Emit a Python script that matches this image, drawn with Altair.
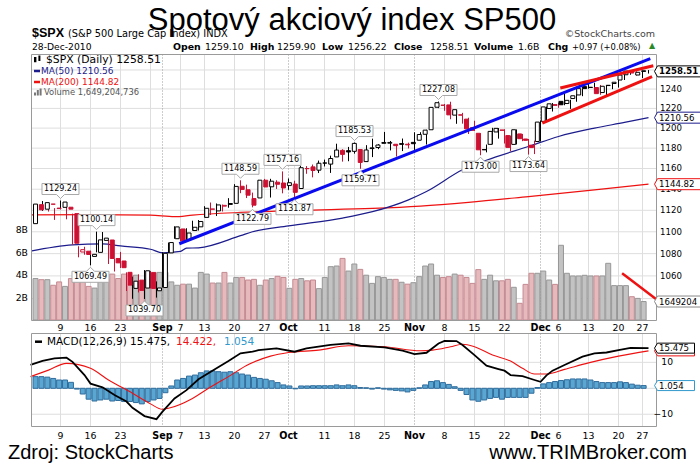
import altair as alt
import pandas as pd

# ---------------- data ----------------
aug = [2,3,4,5,6,9,10,11,12,13,16,17,18,19,20,23,24,25,26,27,30,31]
sep = [1,2,3,7,8,9,10,13,14,15,16,17,20,21,22,23,24,27,28,29,30]
octb = [1,4,5,6,7,8,11,12,13,14,15,18,19,20,21,22,25,26,27,28,29]
nov = [1,2,3,4,5,8,9,10,11,12,15,16,17,18,19,22,23,24,26,29,30]
dec = [1,2,3,6,7,8,9,10,13,14,15,16,17,20,21,22,23,27,28]
dates = ([f"2010-08-{d:02d}" for d in aug] + [f"2010-09-{d:02d}" for d in sep] +
         [f"2010-10-{d:02d}" for d in octb] + [f"2010-11-{d:02d}" for d in nov] +
         [f"2010-12-{d:02d}" for d in dec])
prev_close_before = 1101.60

opens = [1107.53,1125.34,1121.06,1125.78,1122.07,1122.80,1122.92,1116.89,1081.48,1082.22,
1077.49,1081.16,1092.08,1092.44,1075.63,1073.36,1063.20,1048.98,1056.28,1049.27,
1062.90,1046.88,1049.72,1080.66,1093.61,1102.60,1092.36,1101.15,1104.57,1113.38,
1121.16,1119.43,1123.89,1126.39,1126.57,1142.82,1139.49,1131.10,1131.69,1148.64,
1142.31,1146.75,1145.97,1143.49,1144.96,1140.68,1159.81,1161.57,1158.36,1165.32,
1164.28,1171.32,1177.82,1177.47,1176.83,1178.64,1166.74,1179.56,1180.63,1184.74,
1184.88,1183.84,1184.47,1183.87,1185.71,1187.86,1193.79,1198.34,1221.20,1223.24,
1223.59,1213.14,1213.04,1209.07,1200.44,1194.79,1178.33,1183.75,1196.12,1198.07,
1192.51,1183.70,1194.16,1189.08,1182.96,1186.60,1206.81,1219.93,1223.87,1227.25,
1225.02,1230.14,1233.85,1242.52,1241.84,1241.58,1236.34,1243.63,1245.76,1249.43,
1254.94,1257.53,1254.66,1259.10]
highs = [1127.30,1125.44,1128.75,1126.56,1122.07,1129.24,1127.16,1116.89,1086.72,1086.25,
1082.62,1100.14,1099.77,1092.44,1075.63,1081.58,1063.20,1059.38,1061.45,1065.21,
1064.40,1055.14,1081.30,1090.10,1105.10,1102.60,1103.26,1110.27,1110.88,1123.87,
1127.36,1126.46,1125.44,1131.47,1144.86,1148.59,1144.38,1136.77,1148.90,1149.92,
1150.00,1148.63,1157.16,1150.30,1148.16,1162.76,1162.33,1163.87,1167.73,1168.68,
1172.58,1184.38,1178.89,1181.20,1185.53,1178.64,1182.94,1189.43,1183.93,1196.14,
1187.11,1183.84,1189.53,1185.46,1195.81,1195.88,1198.30,1221.25,1227.08,1224.57,
1226.84,1218.75,1215.45,1210.50,1207.43,1194.79,1183.56,1200.29,1199.97,1198.94,
1192.51,1198.62,1194.16,1189.08,1187.40,1207.61,1221.89,1225.57,1225.80,1235.05,
1228.93,1234.71,1240.40,1246.73,1246.59,1244.25,1243.75,1245.81,1250.20,1255.82,
1259.39,1258.59,1258.43,1259.90]
lows = [1107.53,1116.76,1119.46,1118.81,1111.01,1120.91,1111.58,1088.01,1076.69,1079.00,
1069.49,1081.16,1085.76,1070.66,1063.91,1067.08,1046.68,1039.83,1045.40,1039.70,
1048.79,1040.88,1049.72,1080.39,1093.61,1091.15,1091.84,1101.15,1101.15,1113.38,
1115.58,1114.63,1118.88,1122.43,1126.57,1136.22,1131.58,1122.79,1131.69,1142.00,
1132.09,1140.26,1136.08,1139.42,1131.87,1140.68,1154.85,1151.41,1155.58,1162.02,
1155.71,1171.32,1166.71,1167.12,1174.55,1159.71,1166.74,1171.17,1178.99,1184.74,
1177.72,1171.70,1177.10,1179.70,1177.65,1187.86,1183.56,1198.34,1220.29,1217.55,
1208.94,1204.33,1204.49,1194.08,1197.15,1173.00,1175.82,1183.75,1189.44,1184.58,
1176.91,1183.70,1186.93,1173.64,1174.14,1186.60,1206.81,1216.82,1220.67,1223.25,
1219.50,1226.85,1232.58,1240.34,1238.17,1234.01,1232.85,1239.87,1241.51,1249.43,
1254.94,1254.05,1251.48,1256.22]
closes = [1125.86,1120.46,1127.24,1125.81,1121.64,1127.79,1121.06,1089.47,1083.61,1079.25,
1079.38,1092.54,1094.16,1075.63,1071.69,1067.36,1051.87,1055.33,1047.22,1064.59,
1048.92,1049.33,1080.29,1090.10,1104.51,1091.84,1098.87,1104.18,1109.55,1121.90,
1121.10,1125.07,1124.66,1125.59,1142.71,1139.78,1134.28,1124.83,1148.67,1142.16,
1147.70,1144.73,1141.20,1146.24,1137.03,1160.75,1159.97,1158.06,1165.15,1165.32,
1169.77,1178.10,1173.81,1176.19,1184.71,1165.90,1178.17,1180.26,1183.08,1185.62,
1185.64,1182.45,1183.78,1183.26,1184.38,1193.57,1197.96,1221.06,1225.85,1223.25,
1213.40,1218.71,1213.54,1199.21,1197.75,1178.34,1178.59,1196.69,1199.73,1197.84,
1180.73,1198.35,1189.40,1187.76,1180.55,1206.07,1221.53,1224.71,1223.12,1223.75,
1228.28,1233.00,1240.40,1240.46,1241.59,1235.23,1242.87,1243.91,1247.08,1254.60,
1258.84,1256.77,1257.54,1258.51]
volumes_b = [3.7,3.6,3.6,3.1,3.4,3.0,3.7,4.25,4.25,3.0,
2.85,4.1,3.6,4.1,3.7,4.1,3.1,4.0,2.7,3.6,
4.25,4.25,4.25,3.4,3.1,3.2,3.2,2.85,4.25,4.1,
3.3,3.3,4.25,3.3,3.8,3.8,3.57,3.63,3.1,3.57,
3.7,3.9,3.8,2.83,3.63,3.7,3.5,3.57,2.8,3.8,
4.76,4.82,5.5,4.37,5.0,4.52,4.0,3.27,3.87,3.8,
3.63,3.63,3.37,3.2,3.33,3.87,4.82,5.0,4.0,3.8,
3.87,4.1,4.0,3.8,3.27,4.5,3.63,4.0,3.5,3.5,
3.63,2.92,1.49,3.18,4.17,4.17,4.37,3.57,3.18,6.67,
4.17,3.93,3.93,3.99,3.93,3.93,3.93,5.06,3.07,3.07,
3.07,2.08,1.93,1.649]
macd_hist = [4.5,4.5,4.3,3.8,3.2,3.2,2.3,-0.3,-2.2,-4.2,
-4.9,-4.5,-4.2,-4.9,-4.7,-5.1,-5.1,-5.5,-6.0,-5.1,
-4.5,-3.9,-1.7,0.9,3.2,3.8,4.7,5.1,6.0,6.7,
6.7,6.4,6.2,6.4,6.0,5.5,5.1,4.2,3.8,3.5,
2.9,2.2,1.3,0.9,-0.2,0.9,0.9,1.0,1.0,1.0,
1.0,1.3,1.0,1.3,1.0,0.3,0.2,-0.3,0.2,-0.3,
-0.6,-0.8,-1.0,-1.4,-0.8,0.2,1.3,2.6,2.9,2.2,
1.5,0.6,-0.8,-2.4,-4.5,-5.0,-4.5,-3.9,-3.5,-4.2,
-3.5,-3.5,-3.5,-3.5,-1.9,0.3,1.7,2.2,2.6,3.0,
3.3,3.6,3.6,3.6,3.2,2.6,2.2,2.2,2.2,2.5,
2.2,1.6,1.2,1.054]

ma50_day = [0,7,12,15,20,22,25,26,28,35,37,43,52,57,63,66,72,77,83,88,94,99,103]
ma50_val = [1082.3,1088,1088.9,1087,1084,1080.7,1082,1085,1085.3,1096.4,1100,1105.5,1112.7,
            1118.7,1129.9,1137.8,1158.7,1170.2,1181.6,1191.6,1200,1205.7,1210.56]
ma200_day = [0,10,20,24,27,35,45,57,65,73,83,94,103]
ma200_val = [1115.8,1116,1115.5,1114.0,1115.5,1118,1120,1121.8,1124,1127.5,1133,1139.4,1144.82]

macd_day = [0,2,4,6,7,9,10,12,14,16,17,19,21,22,24,26,28,31,33,35,37,38,41,44,46,50,53,55,59,
            62,64,66,68,69,71,72,74,76,78,79,80,82,84,85,86,87,89,92,94,96,98,100,103]
macd_val = [9.0,10.6,11.5,11.8,10.2,5.1,1.8,0.4,-2.6,-5.1,-7.5,-10.7,-11.9,-9.0,-3.9,-0.7,3.5,
            7.7,10.5,13.5,14.1,14.7,15.4,14.1,15.4,16.7,17.3,16.4,15.8,14.5,13.2,13.7,17.3,18.3,
            18.2,16.7,12.8,8.7,7.4,6.8,5.1,4.7,3.2,2.5,5.0,6.8,9.0,12.2,13.5,13.8,14.7,15.6,15.475]
signal_day = [0,3,6,10,13,17,20,22,23,27,30,33,36,40,43,48,53,59,65,67,70,72,74,77,80,82,84,86,
              89,93,98,103]
signal_val = [4.5,7.0,9.6,7.7,3.2,-1.9,-6.0,-8.1,-7.7,-3.9,0.5,4.5,8.8,12.4,13.8,14.7,16.4,16.0,
              14.5,14.7,16.0,17.0,16.0,12.8,10.5,7.7,5.5,5.5,7.3,9.8,12.4,14.422]

peak_day = [5,11,10,19,35,37,42,44,54,55,68,75,83]
peak_val = [1129.24,1100.14,1069.49,1039.70,1148.59,1122.79,1157.16,1131.87,1185.53,1159.71,
            1227.08,1173.00,1173.64]
peak_side = ["up","up","dn","dn","up","dn","up","dn","up","dn","up","dn","dn"]

blue_trend_day = [24.8, 103.3]; blue_trend_val = [1089, 1272]
red_up_day = [88.3, 103.8]; red_up_val = [1241, 1264.5]
red_lo_day = [85.3, 103.6]; red_lo_val = [1205, 1252.9]
vol_trend_day = [98.6, 104.3]; vol_trend_val = [4.17, 1.85]

tick_day = [5,10,15,22,25,29,34,39,43,49,54,59,64,69,74,79,85,88,93,98,102]
tick_lbl = ["9","16","23","Sep","7","13","20","27","Oct","11","18","25","Nov","8","15","22",
            "Dec","6","13","20","27"]
week_day = [0,5,10,15,20,25,29,34,39,44,49,54,59,69,74,79,83,88,93,98,102]
month_day = [22,43,64,85]
price_ticks = [1060,1080,1100,1120,1140,1160,1180,1200,1220,1240]
price_grid = [1040,1060,1080,1100,1120,1140,1160,1180,1200,1220,1240,1260]
vol_ticks = [2,4,6,8]
macd_ticks = [10, -10]

# ---------------- styling ----------------
RED = "#cc1133"
NAVY = "#1c1c8c"
GRID = "#dedede"
FRAME = "#9a9a9a"
FONT = "DejaVu Sans"
SANS = "Liberation Sans"

xs = alt.Scale(domain=[0.1667, 104.3333], range=[31.5, 656.5], nice=False, zero=False)
ps = alt.Scale(type="log", domain=[1021.5, 1277], range=[320, 54], nice=False, zero=False)
vs = alt.Scale(domain=[0, 23.75], range=[320, 54], nice=False, zero=False)
ms = alt.Scale(domain=[-14.8, 21.2], range=[426.7, 333.3], nice=False, zero=False)

def X(f="i"):
    return alt.X(f"{f}:Q", scale=xs, axis=None)

def Y(f, sc):
    return alt.Y(f"{f}:Q", scale=sc, axis=None)

one = pd.DataFrame({"a": [0]})

def txt(x, y, s, size=9, color="black", weight="normal", align="left", font=FONT,
        baseline="middle"):
    return alt.Chart(pd.DataFrame({"t": [s]})).mark_text(
        align=align, baseline=baseline, fontSize=size, font=font, fontWeight=weight,
        color=color).encode(x=alt.value(x), y=alt.value(y), text="t:N")

def box(x1, y1, x2, y2, stroke=FRAME, fill="white", fo=0.0):
    return alt.Chart(one).mark_rect(stroke=stroke, strokeWidth=1, fill=fill,
                                    fillOpacity=fo).encode(
        x=alt.value(x1), x2=alt.value(x2), y=alt.value(y1), y2=alt.value(y2))

# candle table
rows = []
for k in range(len(dates)):
    prev = prev_close_before if k == 0 else closes[k - 1]
    down = closes[k] < prev
    col = RED if down else "black"
    fill = col if closes[k] < opens[k] else "white"
    rows.append(dict(i=k, date=dates[k], open=opens[k], high=highs[k], low=lows[k],
                     close=closes[k], blo=min(opens[k], closes[k]),
                     bhi=max(opens[k], closes[k]), col=col, fill=fill,
                     vol=volumes_b[k], vfill="#e6b9bd" if down else "#c3c3c3",
                     vstroke="#c48a92" if down else "#979797", h=macd_hist[k]))
df = pd.DataFrame(rows)

L = []
# grids main panel
L.append(alt.Chart(pd.DataFrame({"p": price_grid})).mark_rule(color=GRID, strokeWidth=1).encode(
    y=Y("p", ps), x=alt.value(31.5), x2=alt.value(656.5)))
L.append(alt.Chart(pd.DataFrame({"i": week_day})).mark_rule(color=GRID, strokeWidth=1).encode(
    x=X(), y=alt.value(54.5), y2=alt.value(320.5)))
L.append(alt.Chart(pd.DataFrame({"i": month_day})).mark_rule(
    color="#9a9a9a", strokeWidth=1, strokeDash=[1, 2]).encode(
    x=X(), y=alt.value(54.5), y2=alt.value(320.5)))
# grids MACD panel
L.append(alt.Chart(pd.DataFrame({"m": [-10, 0, 10]})).mark_rule(color=GRID, strokeWidth=1).encode(
    y=Y("m", ms), x=alt.value(31.5), x2=alt.value(656.5)))
L.append(alt.Chart(pd.DataFrame({"i": week_day})).mark_rule(color=GRID, strokeWidth=1).encode(
    x=X(), y=alt.value(333.5), y2=alt.value(426.5)))
L.append(alt.Chart(pd.DataFrame({"i": month_day})).mark_rule(
    color="#9a9a9a", strokeWidth=1, strokeDash=[1, 2]).encode(
    x=X(), y=alt.value(333.5), y2=alt.value(426.5)))

# volume bars
L.append(alt.Chart(df).mark_bar(size=5, strokeWidth=1).encode(
    x=X(), y=Y("vol", vs), y2=alt.datum(0),
    fill=alt.Fill("vfill:N", scale=None), stroke=alt.Stroke("vstroke:N", scale=None)))

# moving averages
L.append(alt.Chart(pd.DataFrame({"i": ma200_day, "v": ma200_val})).mark_line(
    color="#ee1111", strokeWidth=1.2, interpolate="monotone").encode(x=X(), y=Y("v", ps)))
L.append(alt.Chart(pd.DataFrame({"i": ma50_day, "v": ma50_val})).mark_line(
    color=NAVY, strokeWidth=1.2, interpolate="monotone").encode(x=X(), y=Y("v", ps)))

# candles
L.append(alt.Chart(df).mark_rule(strokeWidth=1).encode(
    x=X(), y=Y("low", ps), y2="high:Q", color=alt.Color("col:N", scale=None)))
L.append(alt.Chart(df).mark_bar(size=4, strokeWidth=1).encode(
    x=X(), y=Y("blo", ps), y2="bhi:Q",
    fill=alt.Fill("fill:N", scale=None), stroke=alt.Stroke("col:N", scale=None)))

# trend lines
for d, v, c in [(blue_trend_day, blue_trend_val, "#0a0aee"),
                (red_up_day, red_up_val, "#ee1111"),
                (red_lo_day, red_lo_val, "#ee1111")]:
    L.append(alt.Chart(pd.DataFrame({"i": d, "v": v})).mark_line(
        color=c, strokeWidth=3).encode(x=X(), y=Y("v", ps)))
L.append(alt.Chart(pd.DataFrame({"i": vol_trend_day, "v": vol_trend_val})).mark_line(
    color="#ee1111", strokeWidth=2.5).encode(x=X(), y=Y("v", vs)))

# peak labels
pk = pd.DataFrame({"i": peak_day, "v": peak_val, "side": peak_side,
                   "t": [f"{v:.2f}" for v in peak_val]})
UP = "M-0.925,-0.85L0.925,-0.85L0.925,-0.3L0.2,-0.3L0,-0.1L-0.2,-0.3L-0.925,-0.3Z"
DN = "M-0.925,0.85L0.925,0.85L0.925,0.3L0.2,0.3L0,0.1L-0.2,0.3L-0.925,0.3Z"
for side, shp, dy in [("up", UP, -11.5), ("dn", DN, 11.5)]:
    sub = pk[pk.side == side]
    L.append(alt.Chart(sub).mark_point(shape=shp, size=1600, fill="white", stroke="#a8a8a8",
                                       strokeWidth=1, opacity=1, fillOpacity=1).encode(
        x=X(), y=Y("v", ps)))
    L.append(alt.Chart(sub).mark_text(dy=dy, fontSize=8, font=FONT, color="black",
                                      baseline="middle").encode(
        x=X(), y=Y("v", ps), text="t:N"))

# white cover left of panels
L.append(box(0, 50, 31, 430, stroke="white", fill="white", fo=1.0))

# MACD panel data
L.append(alt.Chart(df).mark_bar(size=5, strokeWidth=1, fill="#5aa6d3", stroke="#2f6c9c").encode(
    x=X(), y=Y("h", ms), y2=alt.datum(0)))
L.append(alt.Chart(pd.DataFrame({"i": signal_day, "v": signal_val})).mark_line(
    color="#ee1111", strokeWidth=1.1, interpolate="monotone").encode(x=X(), y=Y("v", ms)))
L.append(alt.Chart(pd.DataFrame({"i": macd_day, "v": macd_val})).mark_line(
    color="black", strokeWidth=1.8).encode(x=X(), y=Y("v", ms)))

# frames
L.append(box(31.5, 54.5, 656.5, 320.5))
L.append(box(31.5, 333.5, 656.5, 426.5))

# right price tick labels
L.append(alt.Chart(pd.DataFrame({"p": price_ticks})).mark_text(
    align="left", baseline="middle", fontSize=8.6, font=FONT, color="black").encode(
    x=alt.value(660), y=Y("p", ps), text=alt.Text("p:Q", format="d")))
# left volume labels
L.append(alt.Chart(pd.DataFrame({"v": vol_ticks, "t": [f"{v}B" for v in vol_ticks]})).mark_text(
    align="right", baseline="middle", fontSize=9.3, font=FONT, color="black").encode(
    x=alt.value(28), y=Y("v", vs), text="t:N"))
# MACD tick labels
L.append(alt.Chart(pd.DataFrame({"m": macd_ticks})).mark_text(
    align="right", baseline="middle", fontSize=9.2, font=FONT, color="black").encode(
    x=alt.value(673), y=Y("m", ms), text=alt.Text("m:Q", format="d")))

# right value boxes
RB = "M0,0L0.3,-0.55L4.6,-0.55L4.6,0.55L0.3,0.55Z"
RBM = "M0,0L0.3,-0.5L4.0,-0.5L4.0,0.5L0.3,0.5Z"
def valbox(v, sc, t, stroke, bold=False, shape=RB, tx=659, tcolor="black"):
    d = pd.DataFrame({"v": [v], "t": [t]})
    out = [alt.Chart(d).mark_point(shape=shape, size=400, fill="white", stroke=stroke,
                                   strokeWidth=1, opacity=1, fillOpacity=1).encode(
               x=alt.value(654.5), y=Y("v", sc))]
    if t:
        out.append(alt.Chart(d).mark_text(align="left", baseline="middle", fontSize=8.6,
                                          font=FONT, fontWeight="bold" if bold else "normal",
                                          color=tcolor).encode(
            x=alt.value(tx), y=Y("v", sc), text="t:N"))
    return out
L += valbox(1.649204736, vs, "1649204", "#8a8a8a")
L += valbox(1144.82, ps, "1144.82", "#ee1111")
L += valbox(1210.56, ps, "1210.56", NAVY)
L += valbox(1258.51, ps, "1258.51", "black", bold=True)
L += valbox(14.422, ms, "", "#ee1111", shape=RBM)
L += valbox(15.475, ms, "15.475", "black", shape=RBM)
L += valbox(1.054, ms, "1.054", "#3399cc", shape=RBM)

# x axis labels (two rows)
tk = pd.DataFrame({"i": tick_day, "t": tick_lbl,
                   "b": [t in ("Sep", "Oct", "Nov", "Dec") for t in tick_lbl]})
for yy in (327.5, 435.7):
    L.append(alt.Chart(tk[~tk.b]).mark_text(baseline="middle", fontSize=9.4, font=FONT,
                                            color="black").encode(
        x=X(), y=alt.value(yy), text="t:N"))
    L.append(alt.Chart(tk[tk.b]).mark_text(baseline="middle", fontSize=9.6, font=FONT,
                                           fontWeight="bold", color="black").encode(
        x=X(), y=alt.value(yy), text="t:N"))

# legends inside main panel
ICON_C = "M-1,-0.6L-0.4,-0.6L-0.4,0.7L-1,0.7Z M0.1,-1L0.6,-1L0.6,0.4L0.1,0.4Z"
ICON_V = "M-1,0.9L-1,0.1L-0.5,0.1L-0.5,0.9Z M-0.3,0.9L-0.3,-0.5L0.2,-0.5L0.2,0.9Z M0.4,0.9L0.4,-0.9L0.9,-0.9L0.9,0.9Z"
L.append(alt.Chart(one).mark_point(shape=ICON_C, size=64, filled=True, color="black",
                                   opacity=1).encode(x=alt.value(38), y=alt.value(59.5)))
L.append(alt.Chart(one).mark_point(shape=ICON_V, size=64, filled=True, color="#777777",
                                   opacity=1).encode(x=alt.value(38), y=alt.value(92)))
L.append(txt(46, 59.5, "$SPX (Daily) 1258.51", size=10.8))
L.append(alt.Chart(one).mark_rule(color=NAVY, strokeWidth=2.5).encode(
    x=alt.value(34), x2=alt.value(40), y=alt.value(71)))
L.append(txt(41, 71, "MA(50) 1210.56", size=9, color=NAVY))
L.append(alt.Chart(one).mark_rule(color="#ee1111", strokeWidth=2.5).encode(
    x=alt.value(34), x2=alt.value(40), y=alt.value(82)))
L.append(txt(41, 82, "MA(200) 1144.82", size=9, color="#ee1111"))
L.append(txt(44, 92, "Volume 1,649,204,736", size=8.4, color="#555555"))

# MACD legend
L.append(alt.Chart(one).mark_rule(color="black", strokeWidth=2.5).encode(
    x=alt.value(35), x2=alt.value(42), y=alt.value(341.7)))
L.append(txt(47, 341.7, "MACD(12,26,9) 15.475,", size=10.5))
L.append(txt(176, 341.7, "14.422,", size=10.5, color="#ee1111"))
L.append(txt(224, 341.7, "1.054", size=10.5, color="#3399cc"))

# header
L.append(txt(352, 30, "Spotový akciový index SP500", size=31, font=SANS, align="center",
             baseline="alphabetic"))
L.append(txt(32, 37, "$SPX", size=12.5, font=SANS, weight="bold", baseline="alphabetic"))
L.append(txt(68, 37, "(S&P 500 Large Cap Index) INDX", size=9.8, baseline="alphabetic"))
L.append(txt(655, 37, "©StockCharts.com", size=9.5, color="#444444", align="right",
             baseline="alphabetic"))
L.append(txt(32, 46.5, "28-Dec-2010", size=9.2))
for x, s, b in [(173, "Open", True), (205, "1259.10", False), (250, "High", True),
                (277, "1259.90", False), (322, "Low", True), (348, "1256.22", False),
                (394, "Close", True), (430, "1258.51", False), (474, "Volume", True),
                (518, "1.6B", False), (548, "Chg", True), (572, "+0.97 (+0.08%)", False)]:
    L.append(txt(x, 46.5, s, size=9.4 if b or s != "+0.97 (+0.08%)" else 8.4,
                 weight="bold" if b else "normal"))
L.append(txt(652, 46, "▲", size=8, color="#2a8a2a", align="center"))

# footer
L.append(txt(8, 459, "Zdroj: StockCharts", size=20, font=SANS, baseline="alphabetic"))
L.append(txt(687, 459, "www.TRIMBroker.com", size=20, font=SANS, align="right",
             baseline="alphabetic"))

chart = alt.layer(*L).resolve_scale(x="independent", y="independent").properties(
    width=700, height=470, padding=0, background="white",
    autosize=alt.AutoSizeParams(type="none")).configure_view(stroke=None)

chart.save("out.html", embed_options={"renderer": "svg", "actions": False})
